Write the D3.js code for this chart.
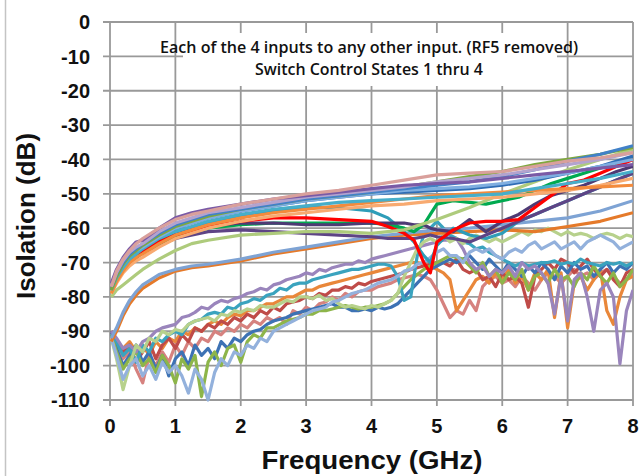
<!DOCTYPE html>
<html><head><meta charset="utf-8">
<script src="https://cdn.jsdelivr.net/npm/d3@7"></script>
<style>html,body{margin:0;padding:0;background:#fff;}svg{display:block;}</style>
</head><body>
<svg id="c" width="641" height="476"></svg>
<script>
// ---------- data ----------
const xTicks = [0,1,2,3,4,5,6,7,8];
const yTicks = [0,-10,-20,-30,-40,-50,-60,-70,-80,-90,-100,-110];
const titleLines = ["Each of the 4 inputs to any other input. (RF5 removed)", "Switch Control States 1 thru 4"];
const xTitle = "Frequency (GHz)";
const yTitle = "Isolation (dB)";

// frequency grids (GHz)
const fS = [0.02,0.1,0.2,0.3,0.4,0.5,0.75,1,1.25,1.5,2,2.5,3,3.5,4,4.5,5,5.5,6,6.5,7,7.5,8];
const fM = [0.02,0.1,0.2,0.3,0.5,0.75,1,1.5,2,2.5,3,3.5,4,4.25,4.5,4.65,4.8,4.9,5,5.25,5.5,5.75,6,6.25,6.5,6.75,7,7.25,7.5,7.75,8];
const fN = [0.02,0.1,0.2,0.3,0.4,0.5,0.6,0.7,0.8,0.9,1.0,1.1,1.2,1.3,1.4,1.5,1.6,1.7,1.8,1.9,2.0,
            2.1,2.2,2.3,2.4,2.5,2.6,2.7,2.8,2.9,3.0,3.1,3.2,3.3,3.4,3.5,3.6,3.7,3.8,3.9,4.0,
            4.1,4.2,4.3,4.4,4.5,4.6,4.7,4.8,4.9,5.0,5.1,5.2,5.3,5.4,5.5,5.6,5.7,5.8,5.9,6.0,
            6.1,6.2,6.3,6.4,6.5,6.6,6.7,6.8,6.9,7.0,7.1,7.2,7.3,7.4,7.5,7.6,7.7,7.8,7.9,8.0];

// lower noisy group (fN)
const nPurple = [-90,-92,-95,-94,-96,-93,-92,-90,-89,-88.5,-88,-86,-85.5,-84.5,-83,-83.5,-82,-81,-81.5,-80.5,-80,
  -79,-78.5,-77.5,-78,-76.5,-76,-75,-74.5,-74,-73,-73.5,-72,-72.5,-71.5,-71,-70.5,-70.5,-69.5,-70,-69,
  -68.5,-68,-67.5,-67,-66.5,-66,-65.5,-65,-64.5,-64,-63.5,-63.5,-63,-66,-70,-72,-71,-74,-72,-73,
  -71,-74,-70,-72,-71,-73,-76,-85,-74,-87,-75,-73,-80,-90,-78,-76,-80,-99.5,-84,-78];
const nTeal = [-91,-93,-97,-95,-99,-94,-96,-92,-93,-91,-90,-91,-88,-87,-86.5,-85,-84.5,-85,-83,-83.5,-82,
  -81.5,-80.5,-81,-79.5,-79,-77.5,-78,-76.5,-76,-76,-75,-74.5,-74,-73.5,-73,-72.5,-72,-72,-71.5,-71,
  -70.5,-70.5,-71,-74,-81,-80,-68,-62,-60,-58,-60,-62,-63,-64,-64.5,-66,-65.5,-67,-68,-69,
  -70,-71,-70,-71,-70.5,-70,-70,-69.5,-70.5,-70,-70.5,-69,-70,-70.5,-71,-70,-70.5,-70,-71,-70];
const nLightBlue = [-92,-97,-104,-100,-98,-103,-100,-104,-99,-102,-100,-103,-108,-101,-104,-110,-102,-98,-100,-96,-97,
  -94,-95,-92,-93,-90,-89,-88,-87,-86,-85,-84,-83.5,-83,-81.5,-81,-80,-79,-78.5,-78,-77,
  -76,-75.5,-75,-74,-72.5,-72,-70.5,-70,-68.5,-67,-66,-68,-68,-70,-67,-66,-67,-66,-68,-69,
  -67,-66,-67,-65,-64,-66,-65,-64,-66,-65,-64,-66,-64,-63,-62,-63,-64,-66,-65,-64];
const nRed = [-90,-93,-96,-94,-99,-96,-93,-98,-94,-92,-95,-91,-93,-89,-90,-88,-89,-87,-88,-86,-87,
  -85,-86,-84,-85,-83,-84,-82,-81.5,-81,-80,-80.5,-79,-79.5,-78,-78,-77,-77.5,-76,-76.5,-75.5,
  -75,-74.5,-74,-73.5,-73,-72,-71.5,-71,-70.5,-70,-70,-71,-69,-72,-73,-72,-75,-74,-77,-73,
  -75,-74,-76,-83,-74,-72,-70,-72,-69,-70,-73,-71,-69,-72,-74,-72,-75,-77,-73,-72];
const nPink = [-91,-94,-98,-96,-101,-105,-97,-100,-96,-99,-94,-97,-93,-95,-92,-93,-90,-91,-89,-90,-88,
  -89,-87,-88,-86,-87,-86,-88,-84,-85,-83,-84,-82,-81.5,-80,-81,-79,-80,-78.5,-78,-78,
  -77,-76.5,-76,-75,-74.5,-74,-73.5,-74,-75,-78,-82,-86,-84,-85,-81,-84,-77,-75,-74,-76,
  -75,-77,-74,-76,-78,-75,-73,-74,-76,-74,-72,-74,-73,-75,-73,-72,-74,-76,-75,-73];
const nBlue = [-90,-95,-100,-97,-94,-99,-96,-101,-97,-103,-98,-96,-100,-94,-97,-95,-98,-93,-95,-92,-93,
  -91,-90,-89.5,-88,-87,-86.5,-86,-85,-84.5,-84,-83.5,-83,-82.5,-82,-83,-83,-84,-84,-83.5,-84,
  -83,-83.5,-83,-82,-80,-78,-76,-74,-72,-71,-70,-69,-70,-69,-68,-70,-72,-69,-71,-73,
  -70,-72,-74,-71,-73,-70,-72,-75,-71,-73,-70,-72,-71,-74,-72,-70,-73,-71,-72,-70];
const nGreen = [-91,-96,-101,-98,-96,-100,-98,-102,-97,-100,-105,-98,-101,-97,-109,-99,-96,-100,-95,-94,-99,
  -93,-91,-92,-89,-89,-88,-87,-86.5,-86,-85,-85,-84,-84,-83.5,-83,-82.5,-83,-83.5,-83,-83,
  -82.5,-82,-81,-79,-77,-75,-73.5,-72,-71,-70,-69,-68,-68.5,-69,-71,-73,-70,-74,-72,-76,
  -73,-75,-72,-78,-74,-73,-76,-72,-75,-74,-77,-73,-75,-71,-74,-76,-73,-77,-75,-72];
const nLightGreen = [-92,-98,-107,-100,-94,-96,-92,-93,-90,-91,-89.5,-90,-88,-87,-86.5,-86,-87,-85,-85.5,-84,-84.5,
  -83.5,-84,-82.5,-83,-83,-82,-81,-81.5,-80,-80,-80.5,-79.5,-81,-80.5,-82,-83,-82.5,-83,-83.5,-82.5,
  -83,-82,-81,-79,-74,-70,-66,-64,-63,-64,-62,-64,-63,-64.5,-63,-62,-63,-64,-63,-64,
  -63,-62,-61,-62,-60.5,-61,-60,-61,-62,-61,-62,-61.5,-62,-63,-62,-61.5,-62,-63,-62,-62.5];
const nOrange = [-90,-93,-95,-93,-96,-94,-97,-93,-95,-92,-93,-90,-91,-89,-90,-88,-87,-88,-86,-85,-85.5,
  -84,-84,-83,-82,-82,-81,-80,-80,-79,-78,-78,-77,-76.5,-76,-75.5,-75,-74.5,-74,-73.5,-73,
  -72.5,-72,-71.5,-71,-70.5,-70,-70,-70.5,-71,-72,-73,-75,-84,-81,-78,-75,-74,-76,-73,-75,
  -72,-76,-74,-78,-73,-75,-72,-86,-73,-89,-76,-74,-78,-75,-72,-84,-88,-80,-75,-74];

// featured upper-cluster lines (fM)
const mRed = [-78,-75,-72,-70,-67,-64,-62,-59.5,-58,-57,-57,-57.5,-58,-59.5,-61.5,-63.5,-70,-73,-64,-60.5,-58.5,-58,-58,-57.5,-54,-50.5,-47,-46,-44,-42,-40];
const mDarkPurple = [-77,-74,-71,-69,-66,-63.5,-61.5,-59.5,-58.5,-58.5,-59,-59,-58.5,-58.5,-58.5,-59,-59,-60,-60.5,-61,-57.5,-61,-58,-56,-53,-50.5,-49,-47.5,-45.5,-43.5,-42];
const mDarkPurple2 = [-78,-75,-72,-70,-67,-65,-63,-61,-60.5,-61,-61.5,-62,-62.5,-63,-63,-63,-62.5,-62,-62.5,-63,-64,-62,-60,-58,-56,-54,-52,-50,-48,-46,-44];
const mGreen = [-78,-75,-72,-70,-67,-64.5,-62.5,-60,-59,-58.5,-58.5,-58.5,-58.5,-59,-60,-61,-59,-56,-53,-52,-52.5,-53,-52,-51,-49,-47,-45.5,-44,-42.5,-41,-39.5];
const mTeal = [-78,-75,-72,-69.5,-66,-63,-61,-58.5,-56.5,-55,-54,-54,-55,-57,-61,-64,-68,-70,-65,-60,-62,-63,-61.5,-58,-56,-54,-52,-50,-48,-46,-44];

// smooth upper-cluster lines (fS)
const sRose = [-77,-72.5,-69,-66.5,-64.5,-63,-60,-57.5,-56,-55,-53,-51.5,-50,-49,-47.5,-46,-44.5,-44,-43.5,-42,-40.5,-39.5,-38];
const sPurple = [-76,-72,-68.5,-66,-64,-63.5,-60,-57,-55.5,-54.5,-53,-51.5,-50.5,-49.5,-48.5,-47.5,-47,-46.5,-45.5,-44.5,-43.5,-42.5,-41.5];
const sOlive = [-78,-74,-70.5,-68,-66.5,-65,-62,-59.5,-58,-56.5,-54.5,-53,-51.5,-50.5,-49.5,-48,-46.5,-45,-43.5,-41.5,-40,-38.5,-36.5];
const sBlue = [-77,-73,-70,-67.5,-66,-64.5,-61.5,-59,-57.5,-56,-54.5,-53,-51.5,-50.5,-49.5,-48.5,-47.5,-46.5,-45,-43,-40.5,-38.5,-36];
const sSky = [-77,-73.5,-70.5,-68,-66.5,-65.5,-62.5,-60,-58.5,-57,-55,-53.5,-52,-51,-50,-49,-48.5,-48,-47,-45.5,-44,-42,-40];
const sLavender = [-77,-73,-69.5,-67,-65.5,-64.5,-61,-58.5,-57,-55.5,-54,-52.5,-51,-50,-49,-48,-46.5,-45.5,-44.5,-43,-41.5,-40,-38];
const sTeal = [-78,-74.5,-71.5,-69,-67.5,-66,-63,-61,-59.5,-58,-56,-54.5,-53.5,-52.5,-52,-51.5,-51,-50.5,-50,-48.5,-47,-45.5,-43.5];
const sOrange = [-79,-75.5,-72.5,-70,-68.5,-67.5,-64.5,-62,-60.5,-59,-57,-55.5,-54.5,-53.5,-52.5,-51.5,-50.5,-50,-49.5,-49,-48.5,-48,-47.5];
const sPeach = [-79,-76,-73,-71,-69.5,-68.5,-65.5,-63,-61.5,-60,-58,-56.5,-55.5,-54.5,-53.5,-53,-52,-51.5,-51,-50,-49,-47.5,-45.5];
const sNavy = [-77,-73,-70,-68,-66.5,-65,-62,-60,-58.5,-57,-55,-53.5,-52,-51,-50,-49.5,-49,-48.5,-47.5,-46,-44,-42,-39];
const sPaleGreen = [-80,-78,-76.5,-75,-73.5,-72,-69,-66.5,-64.5,-63.5,-62,-61.5,-61,-61,-61.5,-60.5,-57.5,-54,-50,-46.5,-43,-40,-37];
const sSteel = [-92,-89,-84.5,-81,-78.5,-76.5,-73.5,-72,-71,-70.5,-69,-67,-65.5,-64,-62.5,-61.5,-60.5,-60,-59,-58,-57,-55,-52];
const sAmber = [-93,-90,-85.5,-82,-79.5,-77.5,-74.5,-72.5,-71.5,-71,-69.5,-67.5,-66,-64.5,-63,-62,-61.5,-61,-60.5,-61,-59.5,-58,-55.5];

const seriesList = [
  {f: fN, v: nPink,       color: "#D6827F"},
  {f: fN, v: nOrange,     color: "#E9873A"},
  {f: fN, v: nRed,        color: "#BF4B48"},
  {f: fN, v: nBlue,       color: "#3D72B4"},
  {f: fN, v: nGreen,      color: "#8DB54A"},
  {f: fN, v: nTeal,       color: "#3AA3BE"},
  {f: fN, v: nPurple,     color: "#9A85BC"},
  {f: fN, v: nLightGreen, color: "#B7D18C"},
  {f: fN, v: nLightBlue,  color: "#93B1DC"},
  {f: fS, v: sAmber,      color: "#E57A2A"},
  {f: fS, v: sSteel,      color: "#7EA3D4"},
  {f: fM, v: mTeal,       color: "#2E9DB8"},
  {f: fM, v: mDarkPurple2,color: "#5E4485"},
  {f: fM, v: mGreen,      color: "#00AA50"},
  {f: fM, v: mDarkPurple, color: "#4E3A74"},
  {f: fM, v: mRed,        color: "#FF0000"},
  {f: fS, v: sPaleGreen,  color: "#AECB7C"},
  {f: fS, v: sPeach,      color: "#F8AA70"},
  {f: fS, v: sOrange,     color: "#F38B3C"},
  {f: fS, v: sTeal,       color: "#47AEC9"},
  {f: fS, v: sNavy,       color: "#2F6DB5"},
  {f: fS, v: sSky,        color: "#7FAEE0"},
  {f: fS, v: sOlive,      color: "#7FA83E"},
  {f: fS, v: sBlue,       color: "#4181C8"},
  {f: fS, v: sLavender,   color: "#B3A3CE"},
  {f: fS, v: sPurple,     color: "#7A5AA6"},
  {f: fS, v: sRose,       color: "#D9A09C"}
];

// ---------- drawing ----------
const svg = d3.select("#c");
const W = 641, H = 476;
const m = {left: 110, right: 633, top: 22, bottom: 400};
const x = d3.scaleLinear().domain([0, 8]).range([m.left, m.right]);
const y = d3.scaleLinear().domain([-110, 0]).range([m.bottom, m.top]);
const gridColor = "#999";

svg.append("rect").attr("width", W).attr("height", H).attr("fill", "#fff");
svg.append("line").attr("x1", 5.5).attr("x2", 5.5).attr("y1", 0).attr("y2", H)
  .attr("stroke", "#c4c4c4").attr("stroke-width", 1.5);

// grid
const g = svg.append("g");
g.selectAll(".hy").data(yTicks).join("line")
  .attr("x1", m.left - 7).attr("x2", m.right)
  .attr("y1", d => y(d)).attr("y2", d => y(d))
  .attr("stroke", gridColor).attr("stroke-width", 1.8);
g.selectAll(".vx").data(xTicks).join("line")
  .attr("x1", d => x(d)).attr("x2", d => x(d))
  .attr("y1", m.top).attr("y2", m.bottom + 6)
  .attr("stroke", gridColor).attr("stroke-width", 1.8);

// title box (white, covers gridlines)
svg.append("rect").attr("x", 183).attr("y", 33).attr("width", 374).attr("height", 53).attr("fill", "#fff");
const titleFont = "'Open Sans', Lato, sans-serif";
svg.append("text").attr("x", 369).attr("y", 53).attr("text-anchor", "middle")
  .attr("font-family", titleFont).attr("font-size", 15.5).attr("font-weight", 600).attr("fill", "#111")
  .attr("textLength", 418).attr("lengthAdjust", "spacingAndGlyphs").text(titleLines[0]);
svg.append("text").attr("x", 369).attr("y", 75).attr("text-anchor", "middle")
  .attr("font-family", titleFont).attr("font-size", 15.5).attr("font-weight", 600).attr("fill", "#111")
  .attr("textLength", 228).attr("lengthAdjust", "spacingAndGlyphs").text(titleLines[1]);

// lines
svg.append("clipPath").attr("id", "clip").append("rect")
  .attr("x", m.left).attr("y", m.top).attr("width", m.right - m.left).attr("height", m.bottom - m.top + 2);
const lineGen = (fs) => d3.line().x((d, i) => x(fs[i])).y(d => y(d));
const lg = svg.append("g").attr("clip-path", "url(#clip)");
seriesList.forEach(s => {
  lg.append("path").attr("d", lineGen(s.f)(s.v)).attr("fill", "none")
    .attr("stroke", s.color).attr("stroke-width", 3.2).attr("stroke-linejoin", "round");
});

// tick labels
svg.append("g").selectAll("text").data(yTicks).join("text")
  .attr("x", 90).attr("y", d => y(d)).attr("dy", "0.36em").attr("text-anchor", "end")
  .attr("font-family", "'Liberation Sans', Arial, sans-serif").attr("font-weight", "bold")
  .attr("font-size", 20).attr("fill", "#111").text(d => d);
svg.append("g").selectAll("text").data(xTicks).join("text")
  .attr("x", d => x(d)).attr("y", 433).attr("text-anchor", "middle")
  .attr("font-family", "'Liberation Sans', Arial, sans-serif").attr("font-weight", "bold")
  .attr("font-size", 20).attr("fill", "#111").text(d => d);

// axis titles
svg.append("text").attr("transform", "translate(35,216) rotate(-90)").attr("text-anchor", "middle")
  .attr("font-family", "'Liberation Sans', Arial, sans-serif").attr("font-weight", "bold")
  .attr("font-size", 26).attr("fill", "#111").text(yTitle);
svg.append("text").attr("x", 372).attr("y", 469).attr("text-anchor", "middle")
  .attr("font-family", "'Liberation Sans', Arial, sans-serif").attr("font-weight", "bold")
  .attr("font-size", 26).attr("fill", "#111").attr("textLength", 221).attr("lengthAdjust", "spacingAndGlyphs")
  .text(xTitle);
</script>
</body></html>
